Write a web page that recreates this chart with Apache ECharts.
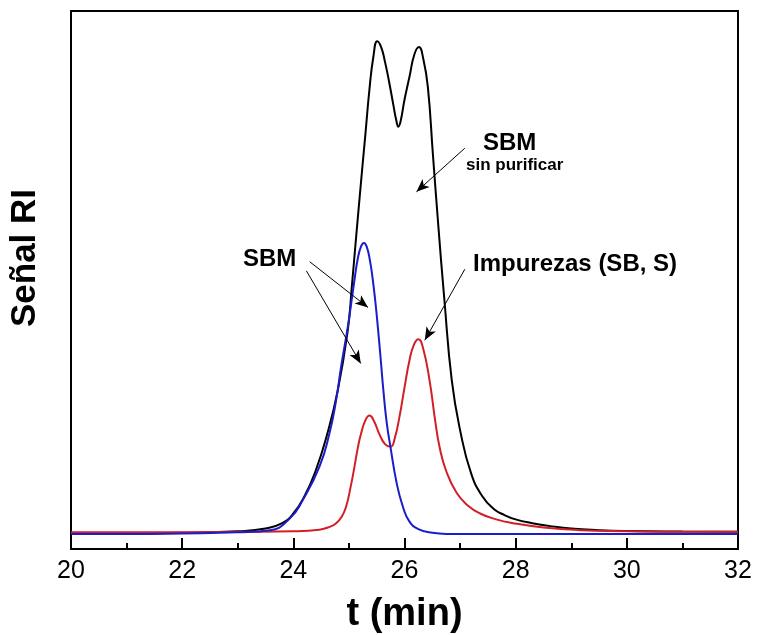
<!DOCTYPE html>
<html>
<head>
<meta charset="utf-8">
<script src="https://cdn.jsdelivr.net/npm/echarts@6/dist/echarts.min.js"></script>
<style>
html,body{margin:0;padding:0;background:#fff;}
#chart{width:757px;height:635px;}
</style>
</head>
<body>
<div id="chart"></div>
<script>
// x-axis ticks
const xTicks = [20, 22, 24, 26, 28, 30, 32];

// SBM sin purificar (black)
const blackT = [20, 21, 22, 23, 23.5, 23.8, 24.0, 24.2, 24.4, 24.6, 24.8, 24.98, 25.05, 25.13, 25.22, 25.30, 25.37, 25.44, 25.51, 25.58, 25.65, 25.72, 25.80, 25.85, 25.89, 25.93, 26.0, 26.09, 26.18, 26.26, 26.34, 26.42, 26.51, 26.60, 26.72, 26.85, 27.0, 27.2, 27.4, 27.6, 27.8, 28.0, 28.3, 28.6, 29.0, 29.5, 30, 31, 32];
const blackV = [2.9, 2.9, 3.0, 3.3, 3.8, 4.8, 6.6, 9.8, 14.5, 21.0, 29.5, 40.7, 48.5, 58.0, 68.5, 77.5, 85.5, 91.5, 94.4, 93.3, 90.5, 87.0, 82.5, 79.8, 78.5, 79.5, 83.5, 87.8, 92.0, 93.3, 91.0, 85.9, 73.5, 61.2, 46.0, 31.4, 22.1, 14.0, 9.8, 7.5, 6.3, 5.5, 4.8, 4.3, 3.8, 3.5, 3.35, 3.25, 3.2];

// SBM (blue)
const blueT = [20, 21, 22, 23, 23.58, 23.93, 24.17, 24.47, 24.65, 24.77, 24.86, 24.98, 25.05, 25.10, 25.16, 25.22, 25.27, 25.32, 25.38, 25.43, 25.48, 25.52, 25.57, 25.62, 25.68, 25.75, 25.86, 25.97, 26.09, 26.25, 26.5, 26.75, 28, 30, 32];
const blueV = [2.8, 2.8, 2.9, 3.1, 3.5, 5.6, 9.1, 15.3, 21.5, 27.7, 33.9, 41.3, 46.3, 50.0, 54.0, 56.3, 56.9, 56.2, 53.5, 50.0, 45.5, 41.3, 35.5, 29.5, 23.5, 18.8, 12.2, 7.9, 5.1, 3.7, 3.0, 2.8, 2.8, 2.8, 2.8];

// Impurezas SB, S (red)
const redT = [20, 22, 23, 24, 24.47, 24.65, 24.77, 24.87, 24.95, 25.03, 25.1, 25.16, 25.22, 25.3, 25.37, 25.45, 25.55, 25.65, 25.75, 25.83, 25.91, 26.0, 26.09, 26.17, 26.25, 26.33, 26.45, 26.55, 26.63, 26.75, 26.94, 27.15, 27.36, 27.65, 27.95, 28.5, 29.16, 30, 31, 32];
const redV = [3.1, 3.1, 3.2, 3.3, 3.6, 4.1, 4.8, 6.0, 7.9, 11.5, 15.3, 18.8, 21.5, 24.0, 24.8, 23.8, 21.3, 19.5, 19.0, 20.8, 24.6, 30.0, 35.1, 38.0, 39.0, 37.5, 31.4, 24.0, 19.0, 14.5, 10.4, 8.0, 6.6, 5.5, 4.8, 4.0, 3.5, 3.3, 3.2, 3.2];

// annotation arrows (data coordinates): start [t, signal] -> end [t, signal]
const arrowStarts = [[27.085, 74.5], [24.294, 53.4], [24.235, 51.7], [27.085, 52.0]];
const arrowEnds   = [[26.215, 66.4], [25.344, 44.9], [25.213, 34.5], [26.365, 38.8]];

const zip = (t, v) => t.map((x, i) => [x, v[i]]);
const FONT = '"Liberation Sans", Arial, sans-serif';

const chart = echarts.init(document.getElementById('chart'), null, {renderer: 'canvas'});

const lineSeries = (name, t, v, color) => ({
  name, type: 'line', data: zip(t, v), showSymbol: false, symbol: 'none',
  smooth: 0.5,
  lineStyle: {color, width: 2}, itemStyle: {color},
  silent: true, animation: false, z: 3
});

const black = lineSeries('SBM sin purificar', blackT, blackV, '#000000');
black.markLine = {
  silent: true, animation: false,
  symbol: ['none', 'arrow'], symbolSize: [8, 13],
  lineStyle: {color: '#000', width: 1, type: 'solid'},
  label: {show: false},
  emphasis: {disabled: true},
  data: arrowStarts.map((s, i) => [{coord: s}, {coord: arrowEnds[i]}])
};

chart.setOption({
  animation: false,
  backgroundColor: '#fff',
  textStyle: {fontFamily: FONT},
  grid: {left: 71, right: 19, top: 11, bottom: 86, containLabel: false, outerBoundsMode: 'none'},
  xAxis: [{
    type: 'value', min: 20, max: 32, interval: 2,
    name: 't (min)', nameLocation: 'middle', nameGap: 47,
    nameTextStyle: {fontSize: 38, fontWeight: 'bold', color: '#000', fontFamily: FONT},
    axisLine: {show: true, onZero: false, lineStyle: {color: '#000', width: 2}},
    axisTick: {show: true, inside: true, length: 11, lineStyle: {color: '#000', width: 2}},
    minorTick: {show: true, splitNumber: 2, length: 6, lineStyle: {color: '#000', width: 2}},
    axisLabel: {fontSize: 25, color: '#000', margin: 10, fontFamily: FONT,
      formatter: v => xTicks.includes(v) ? String(v) : ''},
    splitLine: {show: false}
  }, {
    type: 'value', min: 20, max: 32, position: 'top',
    axisLine: {show: true, onZero: false, lineStyle: {color: '#000', width: 2}},
    axisTick: {show: false}, axisLabel: {show: false}, splitLine: {show: false}
  }],
  yAxis: [{
    type: 'value', min: 0, max: 100,
    name: 'Señal RI', nameLocation: 'middle', nameRotate: 90, nameGap: 28,
    nameTextStyle: {fontSize: 35, fontWeight: 'bold', color: '#000', fontFamily: FONT, padding: [0, 0, 0, 44]},
    axisLine: {show: true, onZero: false, lineStyle: {color: '#000', width: 2}},
    axisTick: {show: false}, axisLabel: {show: false}, splitLine: {show: false}
  }, {
    type: 'value', min: 0, max: 100, position: 'right',
    axisLine: {show: true, onZero: false, lineStyle: {color: '#000', width: 2}},
    axisTick: {show: false}, axisLabel: {show: false}, splitLine: {show: false}
  }],
  series: [
    black,
    lineSeries('Impurezas (SB, S)', redT, redV, '#d21f26'),
    lineSeries('SBM', blueT, blueV, '#1c1cc8')
  ],
  graphic: [
    {type: 'text', left: 483, top: 131, silent: true,
      style: {text: 'SBM', font: 'bold 24px ' + FONT, fill: '#000'}},
    {type: 'text', left: 466, top: 157, silent: true,
      style: {text: 'sin purificar', font: 'bold 17px ' + FONT, fill: '#000'}},
    {type: 'text', left: 243, top: 247, silent: true,
      style: {text: 'SBM', font: 'bold 24px ' + FONT, fill: '#000'}},
    {type: 'text', left: 473, top: 252, silent: true,
      style: {text: 'Impurezas (SB, S)', font: 'bold 24px ' + FONT, fill: '#000'}}
  ]
});
</script>
</body>
</html>
